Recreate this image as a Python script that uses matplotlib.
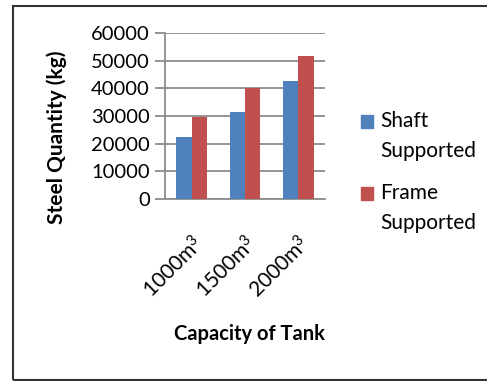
import numpy as np
import matplotlib.pyplot as plt
from matplotlib.patches import Rectangle

plt.rcParams['font.family'] = ['Lato', 'DejaVu Sans']
plt.rcParams['mathtext.fontset'] = 'custom'
plt.rcParams['mathtext.rm'] = 'Lato'
plt.rcParams['mathtext.it'] = 'Lato'

# data
capacity = ['1000m$^3$', '1500m$^3$', '2000m$^3$']
shaft = [22500, 31500, 42500]
frame = [29500, 40300, 51700]
series_names = ['Shaft\nSupported', 'Frame\nSupported']
series_colors = ['#4F81BD', '#C0504D']

W, H = 487, 381
fig = plt.figure(figsize=(W / 100, H / 100), dpi=100)
ax = fig.add_axes([165 / W, 1 - 199 / H, 160 / W, 166 / H])

x = np.arange(len(capacity))
bw = 0.2875
ax.bar(x - bw / 2, shaft, bw, color=series_colors[0], zorder=3)
ax.bar(x + bw / 2, frame, bw, color=series_colors[1], zorder=3)

ax.set_xlim(-0.5, 2.5)
ax.set_ylim(0, 60000)
ax.set_yticks(np.arange(0, 60001, 10000))
ax.yaxis.grid(True, color='#8c8c8c', lw=1.3, zorder=0)
ax.tick_params(axis='y', length=7, width=1.3, color='#8c8c8c', labelsize=14.5, pad=4)
ax.set_xticks(x)
ax.set_xticklabels(capacity, rotation=45, ha='right', va='top',
                   rotation_mode='anchor', fontsize=15)
ax.tick_params(axis='x', length=0, pad=24)
for s in ['top', 'right']:
    ax.spines[s].set_visible(False)
for s in ['left', 'bottom']:
    ax.spines[s].set_color('#8c8c8c')
    ax.spines[s].set_linewidth(1.3)

fig.text(57 / W, 1 - 137 / H, 'Steel Quantity (kg)', rotation=90,
         ha='center', va='center', fontsize=15, fontweight='bold')
fig.text(250 / W, 1 - 334 / H, 'Capacity of Tank',
         ha='center', va='center', fontsize=14.5, fontweight='bold')

# legend
for i, (name, c) in enumerate(zip(series_names, series_colors)):
    top = 115 + i * 72
    fig.patches.append(Rectangle((361 / W, 1 - (top + 13) / H), 12 / W, 13 / H,
                                 transform=fig.transFigure, color=c))
    fig.text(380 / W, 1 - (top - 4) / H, name, ha='left', va='top',
             fontsize=15, linespacing=1.6)

# outer border
fig.patches.append(Rectangle((13 / W, 1 / H), 1.0, 1 - 7 / H,
                             transform=fig.transFigure, fill=False,
                             ec='#333333', lw=1.5))

plt.savefig('out.png', dpi=100)
